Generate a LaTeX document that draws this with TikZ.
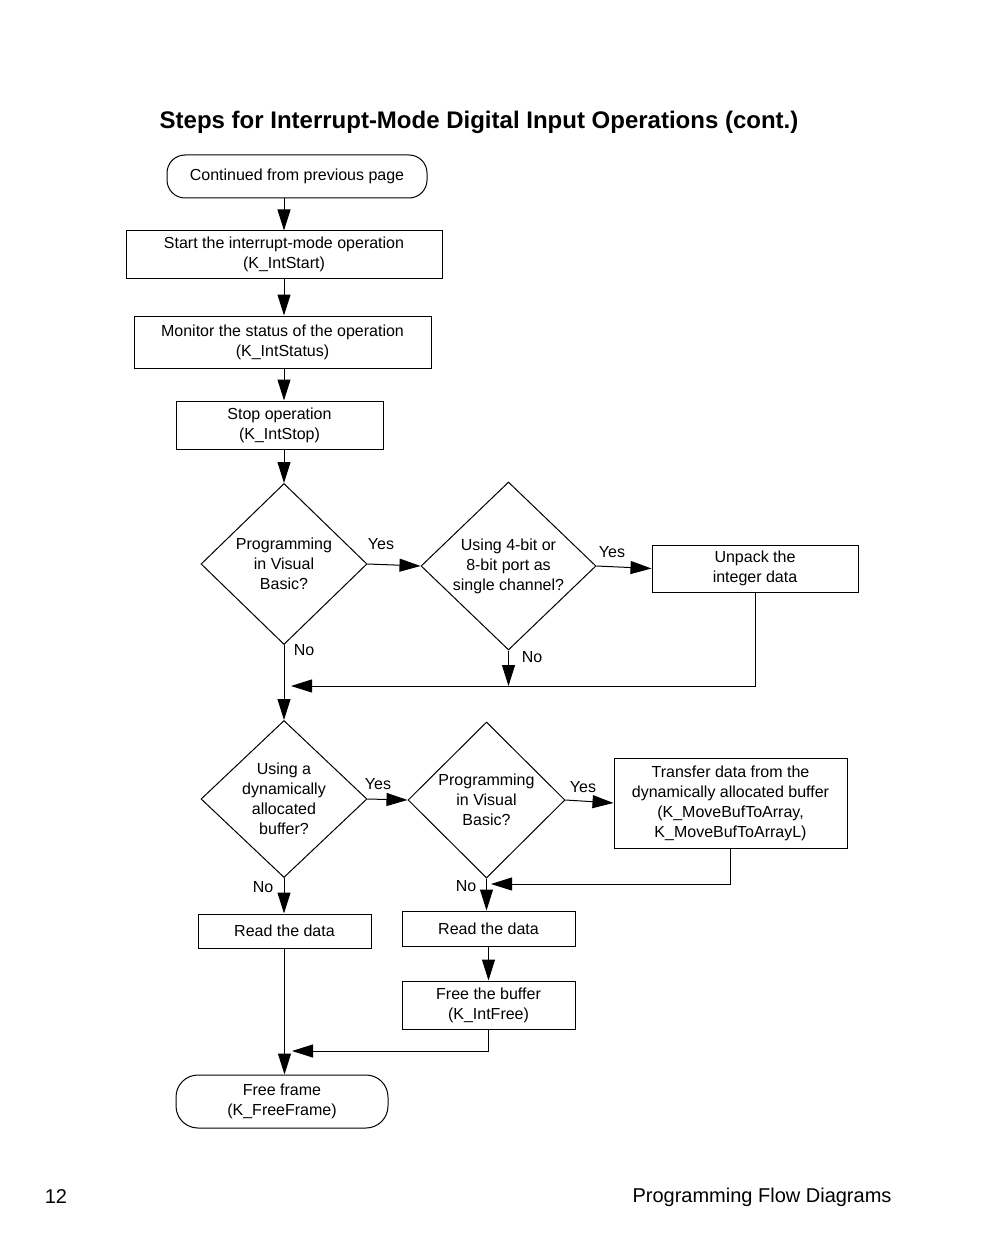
\documentclass[tikz,border=0pt]{standalone}
\usepackage{fontspec}
\setmainfont{Liberation Sans}
\usetikzlibrary{positioning,shapes.geometric,arrows.meta}

\begin{document}
\begin{tikzpicture}[x=1pt,y=-1pt,
		txt/.style={font=\fontsize{16}{20}\selectfont},
		box/.style={txt,draw,rectangle,line width=1pt,align=center,inner sep=0pt},
		term/.style={box,rounded corners=18pt},
		decision/.style={txt,draw,diamond,line width=1pt,align=center,inner sep=0pt},
		arr/.style={line width=1pt,-{Triangle[length=21pt,width=13pt]}},
		lbl/.style={txt,inner sep=0pt}]
		\useasboundingbox (0,0) rectangle (989,1249);
		
		% 标题
		\node[font=\fontsize{24}{28}\selectfont\bfseries] (title) at (479,122) {Steps for Interrupt-Mode Digital Input Operations (cont.)};
		
		% 上半部分（顺序步骤）
		\node[term,minimum width=260,minimum height=43] (start) at (297,176.5) {Continued from previous page};
		\node[box,minimum width=316,minimum height=47] (intstart) at (284,254.5) {Start the interrupt-mode operation\\(K\_IntStart)};
		\node[box,minimum width=297,minimum height=52] (intstatus) at (282.5,342) {Monitor the status of the operation\\(K\_IntStatus)};
		\node[box,minimum width=207,minimum height=48] (intstop) at (279.5,425) {Stop operation\\(K\_IntStop)};
		
		% 第一组判断
		\node[decision,minimum width=166,minimum height=161] (vbA) at (284,564) {Programming\\in Visual\\Basic?};
		\node[decision,minimum width=175,minimum height=168] (port) at (508.5,566) {Using 4-bit or\\8-bit port as\\single channel?};
		\node[box,minimum width=206,minimum height=47] (unpack) at (755,568.5) {Unpack the\\integer data};
		
		% 第二组判断
		\node[decision,minimum width=166,minimum height=157] (dynbuf) at (284,799) {Using a\\dynamically\\allocated\\buffer?};
		\node[decision,minimum width=157,minimum height=156] (vbB) at (486.5,800) {Programming\\in Visual\\Basic?};
		\node[box,minimum width=233,minimum height=90] (transfer) at (730.5,803) {Transfer data from the\\dynamically allocated buffer\\(K\_MoveBufToArray,\\K\_MoveBufToArrayL)};
		
		% 下半部分
		\node[box,minimum width=173,minimum height=34] (read1) at (284.5,931) {Read the data};
		\node[box,minimum width=173,minimum height=35] (read2) at (488.5,928.5) {Read the data};
		\node[box,minimum width=173,minimum height=48] (freebuf) at (488.5,1005) {Free the buffer\\(K\_IntFree)};
		\node[box,rounded corners=22pt,minimum width=212,minimum height=53] (endterm) at (282,1101.5) {Free frame\\(K\_FreeFrame)};
		
		% 汇合点
		\coordinate (m1) at (291,686);
		\coordinate (m2) at (491,884);
		\coordinate (m3) at (292,1051);
		
		% 箭头
		\draw[arr] (start.south -| vbA) -- (intstart.north -| vbA);
		\draw[arr] (intstart.south -| vbA) -- (intstatus.north -| vbA);
		\draw[arr] (intstatus.south -| vbA) -- (intstop.north -| vbA);
		\draw[arr] (intstop.south -| vbA) -- (vbA.north);
		\draw[arr] (vbA.east) -- (port.west);
		\draw[arr] (port.east) -- (unpack.west);
		\draw[arr] (port.south) -- (port.south |- m1);
		\draw[arr] (unpack.south) |- (m1);
		\draw[arr] (vbA.south) -- (dynbuf.north);
		\draw[arr] (dynbuf.east) -- (vbB.west);
		\draw[arr] (vbB.east) -- (transfer.west);
		\draw[arr] (transfer.south) |- (m2);
		\draw[arr] (dynbuf.south) -- (dynbuf.south |- read1.north);
		\draw[arr] (vbB.south) -- (vbB.south |- read2.north);
		\draw[arr] (read2.south) -- (freebuf.north);
		\draw[arr] (freebuf.south) |- (m3);
		\draw[arr] (read1.south) -- (read1.south |- endterm.north);
		
		% Yes / No 标注
		\node[lbl] (y1) at (381,544) {Yes};
		\node[lbl] (y2) at (612,552) {Yes};
		\node[lbl] (y3) at (378,784) {Yes};
		\node[lbl] (y4) at (583,787) {Yes};
		\node[lbl] (n1) at (304,650) {No};
		\node[lbl] (n2) at (532,657) {No};
		\node[lbl] (n3) at (263,887) {No};
		\node[lbl] (n4) at (466,886) {No};
		
		% 页脚
		\node[font=\fontsize{20}{24}\selectfont] (pagenum) at (56,1197) {12};
		\node[font=\fontsize{20}{24}\selectfont] (chapter) at (762,1197) {Programming Flow Diagrams};
	\end{tikzpicture}
\end{document}
